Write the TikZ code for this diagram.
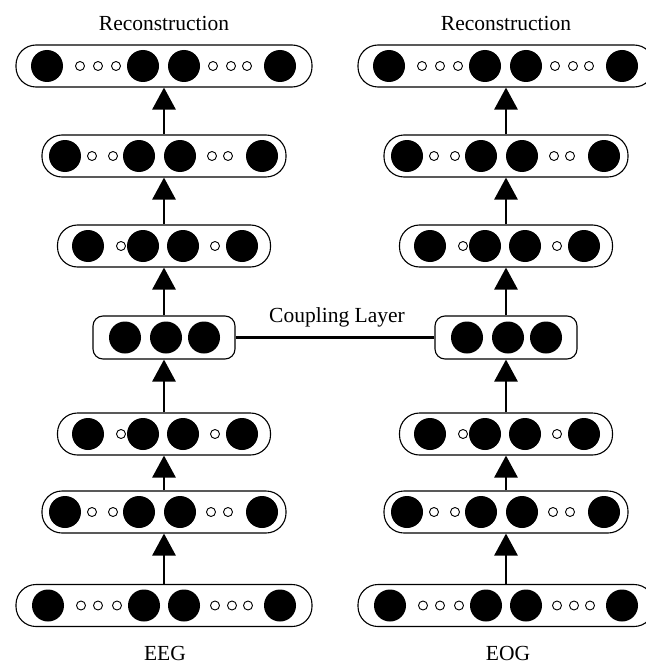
\documentclass[tikz,border=0pt]{standalone}
\usepackage{fontspec}
\setmainfont{Liberation Serif}
\usetikzlibrary{arrows.meta}
\begin{document}
\begin{tikzpicture}[x=1pt,y=-1pt,
  layerbox/.style={draw, line width=1.1pt, rounded corners=#1, minimum height=42pt, inner sep=0pt},
  layerbox/.default=20pt,
  big/.style={circle, fill=black, minimum size=32pt, inner sep=0pt},
  small/.style={circle, draw, line width=0.9pt, fill=white, minimum size=9pt, inner sep=0pt},
  uparrow/.style={line width=2.8pt, -{Triangle[length=22pt,width=23pt]}},
  couple/.style={line width=2.4pt},
  lbl/.style={font=\fontsize{21.5}{25}\selectfont, anchor=base, inner sep=0pt}]
\useasboundingbox (0,0) rectangle (645,666);
\foreach \c/\dx in {L/0,R/342}{
  \foreach \r/\y/\w/\bigs/\smalls in {
    1/66/296/{47,143,184,280}/{80,98,116,213,231,247},
    2/156/244/{65,139,180,262}/{92,113,212,228},
    3/246/213/{88,143,183,242}/{121,215},
    5/434/213/{88,143,183,242}/{121,215},
    6/512/244/{65,139,180,262}/{92,113,211,228},
    7/605.5/296/{48,144,184,280}/{81,98,117,215,232,248}}{
    \node[layerbox, minimum width=\w pt] (\c\r) at (164+\dx,\y) {};
    \foreach \b [count=\j] in \bigs {\node[big] (\c\r-b\j) at (\b+\dx,\y) {};}
    \foreach \s [count=\j] in \smalls {\node[small] (\c\r-s\j) at (\s+\dx,\y) {};}
  }
  \node[layerbox=10pt, minimum width=142pt, minimum height=43pt] (\c4) at (164+\dx,337.5) {};
  \foreach \b [count=\j] in {125,166,204} {\node[big] (\c4-b\j) at (\b+\dx,337.5) {};}
  \draw[uparrow] (\c7) -- (\c6);
  \draw[uparrow] (\c6) -- (\c5);
  \draw[uparrow] (\c5) -- (\c4);
  \draw[uparrow] (\c4) -- (\c3);
  \draw[uparrow] (\c3) -- (\c2);
  \draw[uparrow] (\c2) -- (\c1);
}
\draw[couple] (L4) -- (R4);
\node[lbl] (recL) at (164,31) {Reconstruction};
\node[lbl] (recR) at (506,31) {Reconstruction};
\node[lbl] (coup) at (337,322) {Coupling Layer};
\node[lbl] (eeg) at (165,660) {EEG};
\node[lbl] (eog) at (508,660) {EOG};
\end{tikzpicture}
\end{document}
